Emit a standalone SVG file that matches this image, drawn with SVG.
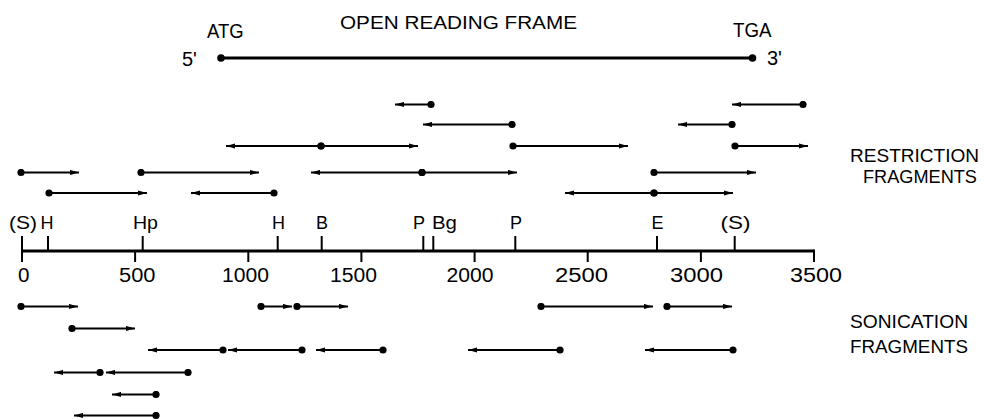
<svg xmlns="http://www.w3.org/2000/svg" width="984" height="420" viewBox="0 0 984 420">
<style>
text{font-family:"Liberation Sans",Arial,sans-serif;fill:#000}
.lbl{font-size:20px}
.side{font-size:19px}
.site{font-size:18px}
.num{font-size:19.5px}
.frag{stroke:#000;stroke-width:2;fill:none;marker-start:url(#dot);marker-end:url(#arr)}
.tick{stroke:#000;stroke-width:2}
</style>
<defs>
<marker id="dot" markerUnits="userSpaceOnUse" viewBox="-4 -4 8 8" refX="0" refY="0" markerWidth="8" markerHeight="8" orient="auto"><circle cx="0" cy="0" r="3.6" fill="#000"/></marker>
<marker id="arr" markerUnits="userSpaceOnUse" viewBox="0 -3 9 6" refX="9" refY="0" markerWidth="9" markerHeight="6" orient="auto"><path d="M0,-2.6 L9,0 L0,2.6 z" fill="#000"/></marker>
</defs>
<rect width="984" height="420" fill="#fff"/>

<g id="orf">
<text class="lbl" x="340" y="28.5" textLength="237" lengthAdjust="spacingAndGlyphs" style="font-size:19px">OPEN READING FRAME</text>
<text class="lbl" x="207" y="37.5" textLength="36.5" lengthAdjust="spacingAndGlyphs">ATG</text>
<text class="lbl" x="733" y="36.7" textLength="38.5" lengthAdjust="spacingAndGlyphs">TGA</text>
<text class="lbl" x="182" y="65.5">5'</text>
<text class="lbl" x="767" y="64.5">3'</text>
<line x1="221" y1="58" x2="752.5" y2="58" stroke="#000" stroke-width="3"/>
<circle cx="221" cy="58" r="3.8"/>
<circle cx="752.5" cy="58" r="3.8"/>
</g>

<g id="restriction-fragments">
<line class="frag" x1="431" y1="104.5" x2="395" y2="104.5"/>
<line class="frag" x1="803" y1="104.5" x2="732" y2="104.5"/>
<line class="frag" x1="512" y1="124.5" x2="423" y2="124.5"/>
<line class="frag" x1="732" y1="124.5" x2="678" y2="124.5"/>
<line class="frag" x1="321" y1="146" x2="226" y2="146"/>
<line class="frag" x1="321" y1="146" x2="418" y2="146"/>
<line class="frag" x1="513" y1="146" x2="628" y2="146"/>
<line class="frag" x1="735" y1="146" x2="808" y2="146"/>
<line class="frag" x1="21" y1="172.5" x2="79" y2="172.5"/>
<line class="frag" x1="141" y1="172.5" x2="259" y2="172.5"/>
<line class="frag" x1="422" y1="172.5" x2="311" y2="172.5"/>
<line class="frag" x1="422" y1="172.5" x2="517" y2="172.5"/>
<line class="frag" x1="654" y1="172.5" x2="756" y2="172.5"/>
<line class="frag" x1="49" y1="193" x2="147" y2="193"/>
<line class="frag" x1="274" y1="193" x2="191" y2="193"/>
<line class="frag" x1="654" y1="193" x2="565" y2="193"/>
<line class="frag" x1="654" y1="193" x2="733" y2="193"/>
</g>
<g id="restriction-label">
<text class="side" x="850" y="161.5" textLength="129" lengthAdjust="spacingAndGlyphs">RESTRICTION</text>
<text class="side" x="863" y="183" textLength="114" lengthAdjust="spacingAndGlyphs" style="font-size:18px">FRAGMENTS</text>
</g>

<g id="map-axis">
<line x1="22" y1="251" x2="814" y2="251" stroke="#000" stroke-width="3"/>
<g class="tick">
<line x1="22" y1="236" x2="22" y2="262"/>
<line x1="135.1" y1="251" x2="135.1" y2="262"/>
<line x1="248.3" y1="251" x2="248.3" y2="262"/>
<line x1="361.4" y1="251" x2="361.4" y2="262"/>
<line x1="474.6" y1="251" x2="474.6" y2="262"/>
<line x1="587.7" y1="251" x2="587.7" y2="262"/>
<line x1="700.9" y1="251" x2="700.9" y2="262"/>
<line x1="814" y1="249.5" x2="814" y2="262"/>
<line x1="48" y1="236" x2="48" y2="251"/>
<line x1="142.7" y1="236" x2="142.7" y2="251"/>
<line x1="277.7" y1="236" x2="277.7" y2="251"/>
<line x1="321.7" y1="236" x2="321.7" y2="251"/>
<line x1="423.3" y1="236" x2="423.3" y2="251"/>
<line x1="433.3" y1="236" x2="433.3" y2="251"/>
<line x1="515.3" y1="236" x2="515.3" y2="251"/>
<line x1="657" y1="236" x2="657" y2="251"/>
<line x1="734.7" y1="236" x2="734.7" y2="251"/>
</g>
<text class="site" x="9" y="229" textLength="28" lengthAdjust="spacingAndGlyphs">(S)</text>
<text class="site" x="40.5" y="229">H</text>
<text class="site" x="133" y="229" textLength="25" lengthAdjust="spacingAndGlyphs">Hp</text>
<text class="site" x="272" y="229">H</text>
<text class="site" x="316" y="229">B</text>
<text class="site" x="413" y="229">P</text>
<text class="site" x="432" y="229" textLength="25" lengthAdjust="spacingAndGlyphs">Bg</text>
<text class="site" x="510" y="229">P</text>
<text class="site" x="651.5" y="229">E</text>
<text class="site" x="720.5" y="229" textLength="30" lengthAdjust="spacingAndGlyphs">(S)</text>
<text class="num" x="18" y="282" textLength="11.5" lengthAdjust="spacingAndGlyphs">0</text>
<text class="num" x="119" y="282" textLength="36.5" lengthAdjust="spacingAndGlyphs">500</text>
<text class="num" x="222" y="282" textLength="47" lengthAdjust="spacingAndGlyphs">1000</text>
<text class="num" x="330" y="282" textLength="47" lengthAdjust="spacingAndGlyphs">1500</text>
<text class="num" x="446.5" y="282" textLength="47" lengthAdjust="spacingAndGlyphs">2000</text>
<text class="num" x="555" y="282" textLength="53" lengthAdjust="spacingAndGlyphs">2500</text>
<text class="num" x="670" y="282" textLength="53" lengthAdjust="spacingAndGlyphs">3000</text>
<text class="num" x="790" y="282" textLength="52" lengthAdjust="spacingAndGlyphs">3500</text>
</g>

<g id="sonication-fragments">
<line class="frag" x1="21" y1="306.5" x2="78" y2="306.5"/>
<line class="frag" x1="261" y1="306.5" x2="292" y2="306.5"/>
<line class="frag" x1="297" y1="306.5" x2="348" y2="306.5"/>
<line class="frag" x1="541" y1="306.5" x2="653" y2="306.5"/>
<line class="frag" x1="667" y1="306.5" x2="732" y2="306.5"/>
<line class="frag" x1="72" y1="328.5" x2="135" y2="328.5"/>
<line class="frag" x1="223" y1="350" x2="148" y2="350"/>
<line class="frag" x1="302" y1="350" x2="228" y2="350"/>
<line class="frag" x1="383" y1="350" x2="316" y2="350"/>
<line class="frag" x1="560" y1="350" x2="468" y2="350"/>
<line class="frag" x1="733" y1="350" x2="645" y2="350"/>
<line class="frag" x1="100" y1="372.5" x2="54" y2="372.5"/>
<line class="frag" x1="188" y1="372.5" x2="106" y2="372.5"/>
<line class="frag" x1="156" y1="394.5" x2="112" y2="394.5"/>
<line class="frag" x1="156" y1="415.5" x2="74" y2="415.5"/>
</g>
<g id="sonication-label">
<text class="side" x="850" y="328" textLength="118" lengthAdjust="spacingAndGlyphs">SONICATION</text>
<text class="side" x="850" y="352.5" textLength="118" lengthAdjust="spacingAndGlyphs">FRAGMENTS</text>
</g>
</svg>
